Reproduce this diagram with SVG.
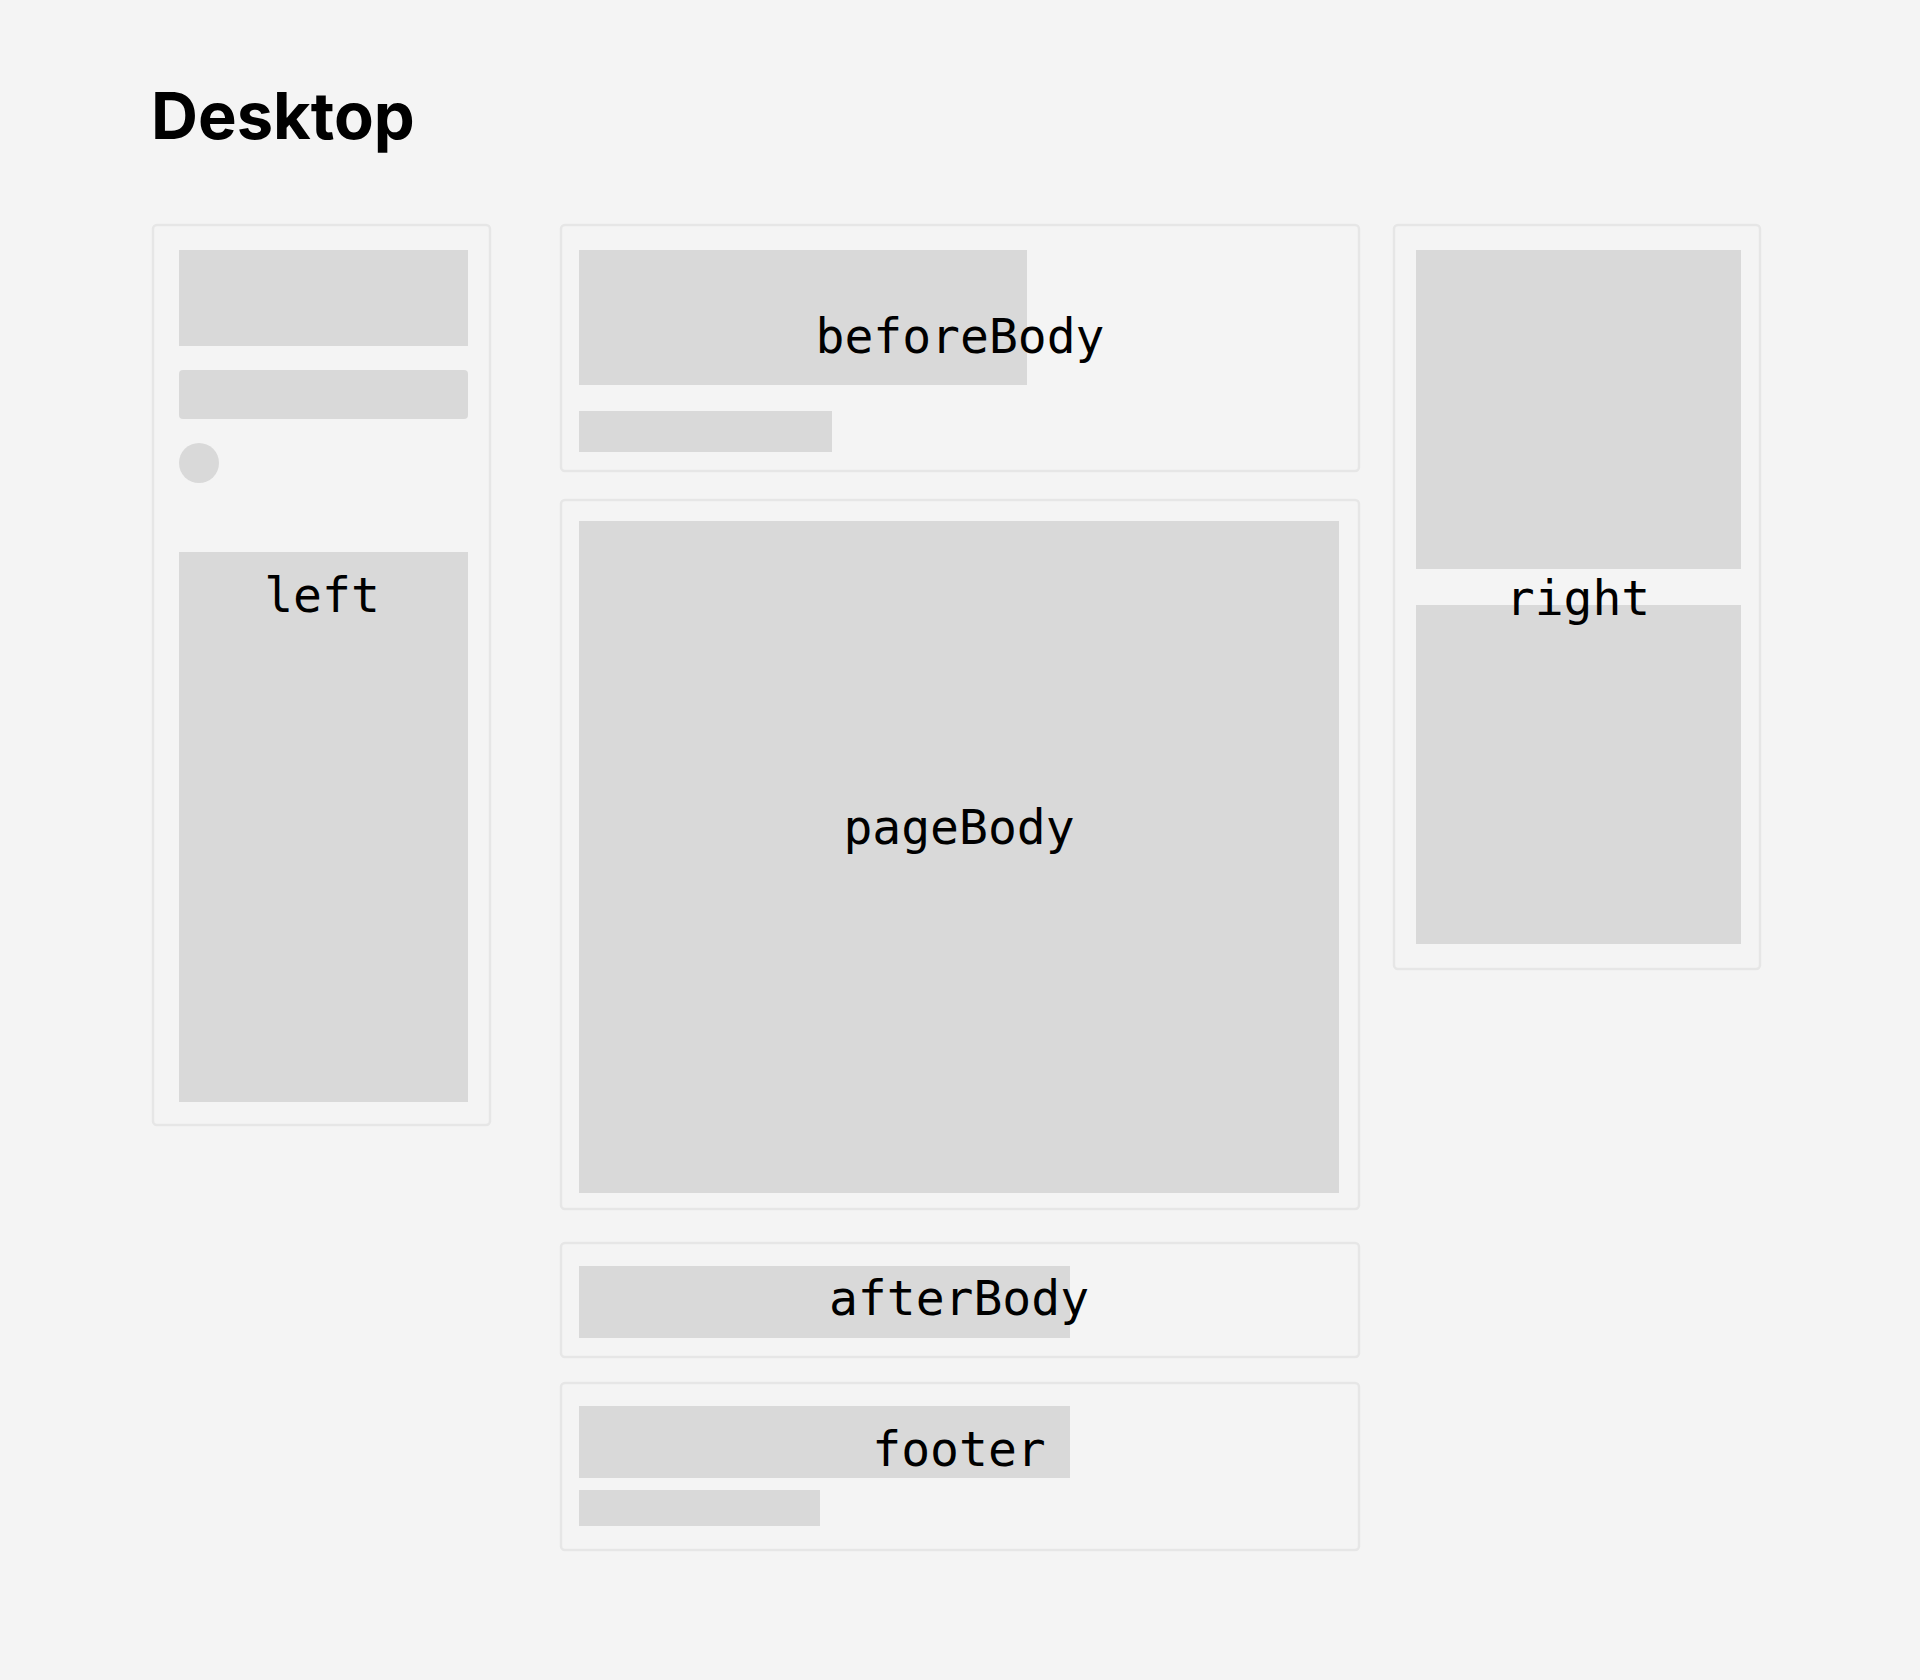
<svg xmlns="http://www.w3.org/2000/svg" width="1920" height="1680" viewBox="0 0 1920 1680">
  <style>
    .bg { fill: #f4f4f4; }
    .box { fill: #f4f4f4; stroke: #e6e6e6; stroke-width: 2.5; }
    .blk { fill: #d9d9d9; }
    .lbl { font-family: "DejaVu Sans Mono", "Liberation Mono", monospace; font-size: 48px; fill: #000; text-anchor: middle; }
    .title { font-family: Inter, "Liberation Sans", sans-serif; font-size: 65px; font-weight: 700; fill: #000; }
  </style>
  <rect class="bg" x="0" y="0" width="1920" height="1680"/>
  <text class="title" x="151" y="139">Desktop</text>

  <g id="left">
    <rect class="box" x="153" y="225" width="337" height="900" rx="4"/>
    <rect class="blk" x="179" y="250" width="289" height="96"/>
    <rect class="blk" x="179" y="370" width="289" height="49" rx="4"/>
    <circle class="blk" cx="199" cy="463" r="20"/>
    <rect class="blk" x="179" y="552" width="289" height="550"/>
    <text class="lbl" x="322" y="612">left</text>
  </g>

  <g id="beforeBody">
    <rect class="box" x="561" y="225" width="798" height="246" rx="4"/>
    <rect class="blk" x="579" y="250" width="448" height="135"/>
    <rect class="blk" x="579" y="411" width="253" height="41"/>
    <text class="lbl" x="960" y="353">beforeBody</text>
  </g>

  <g id="pageBody">
    <rect class="box" x="561" y="500" width="798" height="709" rx="4"/>
    <rect class="blk" x="579" y="521" width="760" height="672"/>
    <text class="lbl" x="959" y="844">pageBody</text>
  </g>

  <g id="afterBody">
    <rect class="box" x="561" y="1243" width="798" height="114" rx="4"/>
    <rect class="blk" x="579" y="1266" width="491" height="72"/>
    <text class="lbl" x="959" y="1315">afterBody</text>
  </g>

  <g id="footer">
    <rect class="box" x="561" y="1383" width="798" height="167" rx="4"/>
    <rect class="blk" x="579" y="1406" width="491" height="72"/>
    <rect class="blk" x="579" y="1490" width="241" height="36"/>
    <text class="lbl" x="959" y="1466">footer</text>
  </g>

  <g id="right">
    <rect class="box" x="1394" y="225" width="366" height="744" rx="4"/>
    <rect class="blk" x="1416" y="250" width="325" height="319"/>
    <rect class="blk" x="1416" y="605" width="325" height="339"/>
    <text class="lbl" x="1578" y="615">right</text>
  </g>

  <g id="connectors"></g>
</svg>
